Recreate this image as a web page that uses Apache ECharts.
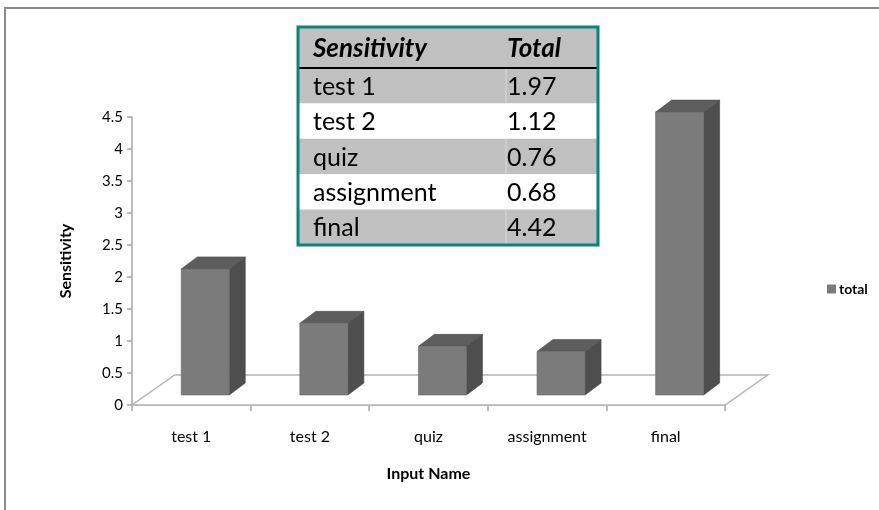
<!DOCTYPE html>
<html>
<head>
<meta charset="utf-8">
<script src="https://cdn.jsdelivr.net/npm/echarts@6/dist/echarts.min.js"></script>
<style>
html,body{margin:0;padding:0;background:#fff;}
#chart{width:879px;height:510px;}
</style>
</head>
<body>
<div id="chart"></div>
<script>
// ---- data ----
const categories = ['test 1', 'test 2', 'quiz', 'assignment', 'final'];
const totalValues = [1.97, 1.12, 0.76, 0.68, 4.42];
const yTicks = { min: 0, max: 4.5, interval: 0.5 };
const tableHeader = ['Sensitivity', 'Total'];
const seriesName = 'total';
const xAxisTitle = 'Input Name';
const yAxisTitle = 'Sensitivity';

// ---- style ----
const FONT = 'Lato, "Open Sans", sans-serif';
const FRONT = '#7b7b7b', SIDE = '#4e4e4e', TOPC = '#5d5d5d', EDGE = '#6a6a6a';
const AXIS = '#a6a6a6';

const chart = echarts.init(document.getElementById('chart'), null, { renderer: 'canvas' });

function renderFloor(params, api) {
  const bw = api.size([1, 0])[0];
  const p0 = api.coord([0, 0]);
  const p1 = api.coord([categories.length - 1, 0]);
  const l = p0[0] - bw / 2, r = p1[0] + bw / 2, y = p0[1];
  const dx = 0.36 * bw, dy = 30;
  return {
    type: 'polygon',
    shape: { points: [[l, y], [r, y], [r + dx, y - dy], [l + dx, y - dy]] },
    style: { fill: '#ffffff', stroke: '#b4b4b4', lineWidth: 1.5 }
  };
}

function renderBar(params, api) {
  const i = api.value(0), v = api.value(1);
  const top = api.coord([i, v]);
  const base = api.coord([i, 0]);
  const bw = api.size([1, 0])[0];
  const lift = 10;
  const x0 = base[0] - 0.085 * bw;
  const x1 = x0 + 0.405 * bw;
  const yT = top[1] - lift, yB = base[1] - lift;
  const dx = 16, dy = 12;
  return {
    type: 'group',
    children: [
      { type: 'polygon', shape: { points: [[x1, yB], [x1 + dx, yB - dy], [x1 + dx, yT - dy], [x1, yT]] },
        style: { fill: SIDE, stroke: '#444', lineWidth: 0.6 } },
      { type: 'polygon', shape: { points: [[x0, yT], [x1, yT], [x1 + dx, yT - dy], [x0 + dx, yT - dy]] },
        style: { fill: TOPC, stroke: '#505050', lineWidth: 0.6 } },
      { type: 'rect', shape: { x: x0, y: yT, width: x1 - x0, height: yB - yT },
        style: { fill: FRONT, stroke: EDGE, lineWidth: 0.6 } }
    ]
  };
}

// ---- table graphic ----
const tX = 298, tY = 27, tW = 300, headH = 41, rowH = 35.4;
const col1 = 313, col2 = 507;
const tableEls = [];
tableEls.push({ type: 'rect', shape: { x: tX, y: tY, width: tW, height: headH }, style: { fill: '#c0c0c0' } });
tableEls.push({ type: 'text', x: col1, y: tY + headH / 2 + 1, style: { text: tableHeader[0], font: 'italic bold 26px ' + FONT, fill: '#000', verticalAlign: 'middle' } });
tableEls.push({ type: 'text', x: col2, y: tY + headH / 2 + 1, style: { text: tableHeader[1], font: 'italic bold 26px ' + FONT, fill: '#000', verticalAlign: 'middle' } });
categories.forEach((c, k) => {
  const y = tY + headH + k * rowH;
  tableEls.push({ type: 'rect', shape: { x: tX, y: y, width: tW, height: rowH }, style: { fill: k % 2 === 0 ? '#c0c0c0' : '#ffffff' } });
  if (k % 2 === 0) tableEls.push({ type: 'line', shape: { x1: col2 - 1, y1: y, x2: col2 - 1, y2: y + rowH }, style: { stroke: '#d8d8d8', lineWidth: 1 } });
  tableEls.push({ type: 'text', x: col1, y: y + rowH / 2 + 1, style: { text: c, font: '25px ' + FONT, fill: '#000', verticalAlign: 'middle' } });
  tableEls.push({ type: 'text', x: col2, y: y + rowH / 2 + 1, style: { text: totalValues[k].toFixed(2), font: '25px ' + FONT, fill: '#000', verticalAlign: 'middle' } });
});
tableEls.push({ type: 'line', shape: { x1: tX, y1: tY + headH, x2: tX + tW, y2: tY + headH }, style: { stroke: '#000', lineWidth: 2 } });
const tH = headH + categories.length * rowH;
tableEls.push({ type: 'rect', shape: { x: tX, y: tY, width: tW, height: tH }, style: { fill: 'none', stroke: '#0c827e', lineWidth: 3 } });

const option = {
  animation: false,
  backgroundColor: '#fff',
  textStyle: { fontFamily: FONT },
  grid: { left: 132, right: 154, top: 117, bottom: 105, containLabel: false },
  legend: {
    data: [seriesName], left: 822, top: 277, icon: 'rect', itemWidth: 9, itemHeight: 9, itemGap: 4,
    textStyle: { fontSize: 14, fontWeight: 'bold', color: '#000', fontFamily: FONT, padding: [0, 0, 0, -2] }
  },
  xAxis: {
    type: 'category', data: categories,
    name: xAxisTitle, nameLocation: 'middle', nameGap: 61,
    nameTextStyle: { fontSize: 16, fontWeight: 'bold', color: '#000' },
    axisLine: { lineStyle: { color: AXIS, width: 1.5 } },
    axisTick: { show: true, length: 6, lineStyle: { color: AXIS, width: 1.5 } },
    axisLabel: { margin: 24, fontSize: 16, color: '#000' },
    splitLine: { show: false }
  },
  yAxis: {
    type: 'value', min: yTicks.min, max: yTicks.max, interval: yTicks.interval,
    name: yAxisTitle, nameLocation: 'middle', nameGap: 58, nameRotate: 90,
    nameTextStyle: { fontSize: 16, fontWeight: 'bold', color: '#000' },
    axisLine: { show: true, lineStyle: { color: AXIS, width: 1.5 } },
    axisTick: { show: true, length: 5, lineStyle: { color: AXIS, width: 1.5 } },
    axisLabel: { margin: 9, fontSize: 15, color: '#000' },
    splitLine: { show: false }
  },
  series: [
    { type: 'custom', name: 'floor', z: 1, clip: false, renderItem: renderFloor, data: [[0, 0]], silent: true },
    { type: 'custom', name: seriesName, z: 3, clip: false, renderItem: renderBar,
      itemStyle: { color: FRONT },
      data: totalValues.map((v, i) => [i, v]) }
  ],
  graphic: [
    { type: 'rect', z: -1, shape: { x: 5, y: 8, width: 1000, height: 700 }, style: { fill: 'none', stroke: '#8a8a8a', lineWidth: 2 } },
    { type: 'group', z: 100, children: tableEls }
  ]
};
chart.setOption(option);
</script>
</body>
</html>
